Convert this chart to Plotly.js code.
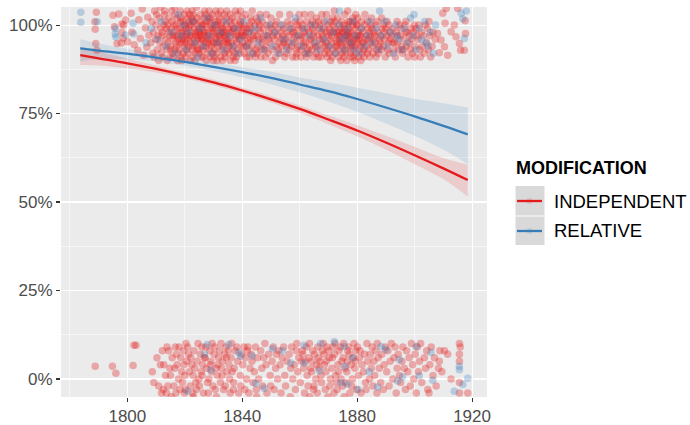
<!DOCTYPE html>
<html>
<head>
<meta charset="utf-8">
<script src="https://cdn.plot.ly/plotly-3.0.1.min.js"></script>
<style>html,body{margin:0;padding:0;background:#fff;}#chart{width:690px;height:425px;}</style>
</head>
<body>
<div id="chart"></div>
<script>
// ---- DATA ----
const xTickVals = [1800, 1840, 1880, 1920];
const xTickText = ["1800", "1840", "1880", "1920"];
const yTickVals = [0, 0.25, 0.5, 0.75, 1];
const yTickText = ["0%", "25%", "50%", "75%", "100%"];
const seriesNames = ["INDEPENDENT", "RELATIVE"];
const legendTitle = "MODIFICATION";

// fitted curves
const fitYears = [1783.6,1790,1800,1810,1820,1830,1840,1850,1860,1870,1880,1890,1900,1910,1918.5];
const indepFit = [0.915,0.906,0.892,0.876,0.858,0.838,0.815,0.790,0.763,0.733,0.702,0.668,0.632,0.595,0.562];
const indepLow = [0.887,0.886,0.878,0.866,0.850,0.830,0.807,0.781,0.752,0.720,0.686,0.648,0.607,0.565,0.515];
const indepHigh = [0.939,0.925,0.905,0.886,0.866,0.846,0.823,0.799,0.773,0.745,0.717,0.687,0.656,0.624,0.605];
const relFit = [0.934,0.928,0.919,0.908,0.896,0.882,0.867,0.851,0.832,0.813,0.791,0.767,0.742,0.715,0.691];
const relLow = [0.898,0.903,0.903,0.897,0.884,0.870,0.852,0.833,0.810,0.784,0.755,0.722,0.687,0.648,0.607];
const relHigh = [0.960,0.948,0.933,0.919,0.907,0.894,0.881,0.868,0.852,0.838,0.823,0.807,0.792,0.779,0.767];

// jittered observations [year, percent]
const topRed = [
[1788.8,98.8],[1789.2,103.6],[1789.0,94.8],[1789.4,92.9],[1788.7,100.9],[1795.0,102.8],[1795.5,99.5],[1796.4,94.8],[1797.0,103.1],[1797.9,94.9],[1798.1,100.3],[1798.1,98.0],[1798.5,96.3],[1798.7,100],[1799.4,101.4],[1800.1,95.3],[1801.3,103.3],[1801.6,98.0],[1802.4,94.4],[1803.6,92.9],[1804.5,96.2],[1805.7,91.5],[1804.0,101.5],[1805.2,104.5],[1806.3,99.2],[1806.8,93.7],[1807.5,97.1],[1807.1,102.2],
[1808.2,95],[1808.6,101],[1808.9,92],[1809.1,98],[1809.5,104],[1809.3,91],[1809.8,96],
[1810.0,100],[1810.4,93],[1810.7,97],[1810.2,103],[1810.9,90],
[1811.3,95],[1811.6,99],[1811.1,102],[1811.8,92],[1811.5,105],
[1812.0,97],[1812.3,91],[1812.7,100],[1812.5,94],[1812.9,103],[1812.1,98],
[1813.4,96],[1813.2,101],[1813.8,93],[1813.6,99],[1813.0,104],[1813.9,90],
[1814.1,95],[1814.5,102],[1814.3,98],[1814.8,91],[1814.6,97],[1814.0,100],[1814.9,94],
[1815.2,99],[1815.7,92],[1815.4,104],[1815.9,96],[1815.1,93],[1815.5,101],[1815.8,97],
[1816.0,91],[1816.3,98],[1816.6,103],[1816.9,95],[1816.2,100],[1816.5,93],[1816.8,97],[1816.4,105],
[1817.1,94],[1817.4,99],[1817.7,92],[1817.3,102],[1817.9,96],[1817.0,100],[1817.6,97],[1817.5,90],
[1818.2,95],[1818.5,101],[1818.8,98],[1818.0,93],[1818.4,104],[1818.7,91],[1818.3,99],[1818.9,96],[1818.6,102],
[1819.1,97],[1819.4,92],[1819.7,100],[1819.2,95],[1819.9,103],[1819.5,98],[1819.0,90],[1819.8,94],[1819.3,101],
[1820.0,96],[1820.3,99],[1820.6,93],[1820.9,102],[1820.2,91],[1820.5,97],[1820.8,104],[1820.1,100],[1820.4,95],[1820.7,98],
[1821.2,94],[1821.5,101],[1821.8,97],[1821.1,92],[1821.4,99],[1821.7,103],[1821.0,96],[1821.9,90],[1821.6,100],
[1822.3,98],[1822.6,93],[1822.9,101],[1822.0,95],[1822.5,104],[1822.2,97],[1822.8,91],[1822.1,100],[1822.7,94],[1822.4,102],
[1823.1,96],[1823.4,99],[1823.7,92],[1823.0,103],[1823.3,95],[1823.9,98],[1823.6,90],[1823.2,101],[1823.8,97],
[1824.0,94],[1824.3,100],[1824.6,97],[1824.9,92],[1824.2,102],[1824.5,96],[1824.8,99],[1824.1,105],[1824.4,93],[1824.7,98],
[1825.2,101],[1825.5,95],[1825.8,91],[1825.1,98],[1825.4,103],[1825.7,96],[1825.0,93],[1825.9,100],[1825.6,97],
[1826.1,99],[1826.4,94],[1826.7,102],[1826.0,96],[1826.3,91],[1826.6,98],[1826.9,104],[1826.2,93],[1826.5,100],[1826.8,97],
[1827.3,95],[1827.6,101],[1827.9,92],[1827.0,98],[1827.2,103],[1827.5,90],[1827.8,96],[1827.1,100],[1827.4,94],
[1828.0,97],[1828.3,102],[1828.6,93],[1828.9,99],[1828.2,95],[1828.5,104],[1828.8,91],[1828.1,98],[1828.4,96],[1828.7,101],
[1829.2,94],[1829.5,99],[1829.8,92],[1829.1,102],[1829.4,97],[1829.7,95],[1829.0,100],[1829.9,90],[1829.6,103],
[1830.0,98],[1830.3,93],[1830.6,101],[1830.9,96],[1830.2,91],[1830.5,99],[1830.8,104],[1830.1,95],[1830.4,97],[1830.7,100],
[1831.1,92],[1831.4,98],[1831.7,103],[1831.0,95],[1831.3,100],[1831.6,94],[1831.9,97],[1831.2,90],[1831.5,101],
[1832.3,96],[1832.6,99],[1832.9,93],[1832.0,102],[1832.2,97],[1832.5,91],[1832.8,100],[1832.1,95],[1832.4,104],[1832.7,98],
[1833.0,94],[1833.3,101],[1833.6,97],[1833.9,92],[1833.2,99],[1833.5,95],[1833.8,103],[1833.1,90],[1833.4,98],
[1834.2,96],[1834.5,100],[1834.8,93],[1834.1,98],[1834.4,102],[1834.7,95],[1834.0,91],[1834.3,97],[1834.6,104],
[1835.1,99],[1835.4,94],[1835.7,101],[1835.0,96],[1835.3,92],[1835.6,98],[1835.9,103],[1835.2,95],[1835.8,90],
[1836.0,97],[1836.3,100],[1836.6,93],[1836.9,99],[1836.2,95],[1836.5,102],[1836.8,91],[1836.4,98],
[1837.1,94],[1837.4,101],[1837.7,96],[1837.0,99],[1837.3,92],[1837.6,104],[1837.9,97],[1837.5,90],
[1838.2,98],[1838.5,93],[1838.8,100],[1838.1,95],[1838.4,103],[1838.7,97],[1838.0,91],[1838.9,99],
[1839.0,96],[1839.3,101],[1839.6,94],[1839.9,98],[1839.2,92],[1839.5,100],[1839.8,97],[1839.4,104],
[1840.1,95],[1840.4,99],[1840.7,92],[1840.0,102],[1840.3,97],[1840.6,94],[1840.9,100],
[1841.2,98],[1841.5,91],[1841.8,96],[1841.1,103],[1841.4,94],[1841.7,99],[1841.0,97],
[1842.3,93],[1842.6,100],[1842.9,96],[1842.2,98],[1842.5,91],[1842.8,102],[1842.1,95],
[1843.0,99],[1843.4,94],[1843.7,97],[1843.2,101],[1843.9,92],[1843.5,104],
[1844.1,96],[1844.4,100],[1844.7,93],[1844.0,98],[1844.6,91],[1844.9,102],
[1845.2,97],[1845.5,94],[1845.8,99],[1845.1,92],[1845.4,101],[1845.7,96],
[1846.3,98],[1846.6,93],[1846.0,100],[1846.9,95],[1846.2,103],[1846.5,91],
[1847.1,96],[1847.4,99],[1847.8,93],[1847.0,101],[1847.6,97],
[1848.2,94],[1848.5,100],[1848.8,97],[1848.1,91],[1848.4,103],
[1849.3,98],[1849.6,95],[1849.0,92],[1849.9,100],[1849.2,96],
[1850.1,99],[1850.4,93],[1850.7,97],[1850.0,102],[1850.5,90],
[1851.2,96],[1851.5,100],[1851.8,94],[1851.1,98],[1851.6,91],
[1852.3,97],[1852.6,93],[1852.0,101],[1852.9,95],[1852.4,99],
[1853.1,92],[1853.4,98],[1853.7,96],[1853.0,103],[1853.8,94],
[1854.2,100],[1854.5,95],[1854.8,91],[1854.1,97],[1854.6,99],
[1855.3,94],[1855.6,98],[1855.0,96],[1855.9,101],[1855.4,92],
[1856.1,97],[1856.4,93],[1856.7,100],[1856.0,95],[1856.5,103],
[1857.2,99],[1857.5,91],[1857.8,96],[1857.1,94],[1857.6,98],
[1858.3,95],[1858.6,101],[1858.9,93],[1858.0,98],[1858.4,97],[1858.7,91],
[1859.1,100],[1859.4,94],[1859.7,97],[1859.0,92],[1859.5,99],[1859.8,103],
[1860.2,96],[1860.5,93],[1860.8,99],[1860.1,101],[1860.4,91],[1860.7,97],
[1861.3,95],[1861.6,98],[1861.9,92],[1861.0,100],[1861.4,94],[1861.7,103],
[1862.1,97],[1862.4,91],[1862.7,99],[1862.0,95],[1862.5,101],[1862.8,93],
[1863.2,98],[1863.5,94],[1863.8,100],[1863.1,92],[1863.6,96],[1863.9,103],
[1864.3,93],[1864.6,99],[1864.0,96],[1864.9,91],[1864.4,101],[1864.7,97],
[1865.1,95],[1865.4,100],[1865.7,92],[1865.0,98],[1865.5,94],[1865.8,102],
[1866.2,97],[1866.5,91],[1866.8,99],[1866.1,94],[1866.6,101],[1866.9,96],
[1867.3,93],[1867.6,98],[1867.0,100],[1867.9,95],[1867.4,91],[1867.7,103],
[1868.1,96],[1868.4,99],[1868.7,92],[1868.0,97],[1868.5,101],[1868.8,94],
[1869.2,98],[1869.5,93],[1869.8,100],[1869.1,95],[1869.6,91],[1869.9,97],[1869.3,103],
[1870.0,94],[1870.3,99],[1870.6,96],[1870.9,101],[1870.2,92],[1870.5,98],[1870.8,90],
[1871.1,97],[1871.4,93],[1871.7,100],[1871.0,95],[1871.5,102],[1871.8,98],[1871.3,91],
[1872.2,99],[1872.5,94],[1872.8,96],[1872.1,101],[1872.4,92],[1872.7,98],[1872.0,104],[1872.9,95],
[1873.3,97],[1873.6,91],[1873.9,100],[1873.0,94],[1873.5,98],[1873.8,93],[1873.2,102],[1873.7,96],
[1874.1,95],[1874.4,99],[1874.7,92],[1874.0,97],[1874.6,101],[1874.9,94],[1874.3,90],[1874.8,98],
[1875.2,96],[1875.5,100],[1875.8,93],[1875.1,98],[1875.4,91],[1875.7,103],[1875.0,95],[1875.9,97],[1875.6,99],
[1876.3,94],[1876.6,98],[1876.9,101],[1876.0,92],[1876.5,96],[1876.8,100],[1876.2,97],[1876.4,90],[1876.7,104],
[1877.1,99],[1877.4,95],[1877.7,92],[1877.0,97],[1877.5,101],[1877.8,94],[1877.3,98],[1877.9,91],[1877.6,96],
[1878.2,93],[1878.5,100],[1878.8,97],[1878.1,95],[1878.4,102],[1878.7,91],[1878.0,98],[1878.9,96],[1878.6,94],
[1879.3,99],[1879.6,92],[1879.9,97],[1879.0,101],[1879.4,94],[1879.7,96],[1879.1,90],[1879.8,100],[1879.5,103],
[1880.1,95],[1880.4,98],[1880.7,93],[1880.0,100],[1880.5,91],[1880.8,97],[1880.2,102],[1880.6,96],
[1881.2,94],[1881.5,99],[1881.8,92],[1881.1,97],[1881.6,101],[1881.9,95],[1881.3,90],
[1882.0,98],[1882.3,93],[1882.6,100],[1882.9,96],[1882.4,91],[1882.7,103],[1882.1,95],
[1883.2,97],[1883.5,92],[1883.8,99],[1883.1,94],[1883.6,101],[1883.9,96],
[1884.0,93],[1884.3,98],[1884.6,95],[1884.9,100],[1884.4,91],[1884.7,97],
[1885.1,99],[1885.4,94],[1885.7,96],[1885.0,102],[1885.5,92],[1885.8,98],
[1886.2,95],[1886.5,100],[1886.8,93],[1886.1,97],[1886.6,91],
[1887.3,98],[1887.6,94],[1887.0,101],[1887.9,96],[1887.4,92],
[1888.1,97],[1888.4,93],[1888.7,99],[1888.0,95],[1888.5,102],
[1889.2,94],[1889.5,98],[1889.8,91],[1889.1,100],[1889.6,96],
[1890.3,97],[1890.6,93],[1890.0,99],[1890.9,95],[1890.4,101],
[1891.1,92],[1891.4,98],[1891.7,96],[1891.0,100],
[1892.2,95],[1892.5,99],[1892.8,93],[1892.1,97],
[1893.3,91],[1893.6,98],[1893.0,95],[1893.9,101],
[1894.1,97],[1894.4,93],[1894.7,100],[1894.0,95],
[1895.2,99],[1895.5,94],[1895.8,92],[1895.1,97],
[1896.3,96],[1896.6,100],[1896.0,93],[1896.9,98],
[1897.1,94],[1897.4,98],[1897.7,91],[1897.0,101],
[1898.2,97],[1898.5,93],[1898.8,99],[1898.1,95],
[1899.3,92],[1899.6,98],[1899.0,96],[1899.9,100],
[1900.1,94],[1900.4,99],[1900.7,97],[1900.0,91],
[1901.2,96],[1901.5,100],[1901.8,93],
[1902.3,98],[1902.6,94],[1902.0,91],
[1903.1,97],[1903.4,92],[1903.7,100],
[1904.2,95],[1904.5,99],[1904.8,93],
[1905.3,97],[1905.6,91],[1905.0,101],
[1906.1,94],[1906.4,98],[1907.2,96],
[1908.0,97.6],[1908.6,92.2],[1909.2,95.8],[1909.8,103.3],[1910.4,93.9],[1910.6,100.5],[1911.0,104.7],[1911.5,91.5],[1912.7,98.1],[1913.8,100],[1914.4,96.7],[1915.0,104.7],[1915.6,94.8],[1916.0,92.9],[1917.3,92.9],[1917.7,97.6],[1917.6,101.2]
];

const topBlue = [
[1783.8,103.6],[1783.8,100.8],[1789.5,100.9],[1795.8,99],[1795.8,97.5],[1796,96.6],[1799.3,97.2],[1802,100.5],[1802.2,97.5],[1806.5,95],[1808.3,99],[1810.5,96],[1811.9,101],[1813.5,94],[1815.3,98],[1816.7,92],[1817.8,103],[1818.6,97],[1819.6,100],[1820.4,93],[1821.3,98],[1822.6,101],[1823.5,95],[1824.4,91],[1825.3,99],[1826.5,94],[1827.7,102],[1828.4,97],[1829.3,92],[1830.2,100],[1831.5,95],[1832.4,98],[1833.6,93],[1834.5,101],[1835.5,97],[1836.7,94],[1837.6,99],[1838.5,92],[1839.4,96],[1840.5,101],[1841.6,94],[1842.4,98],[1843.3,92],[1844.5,99],[1845.6,95],[1846.4,102],[1847.5,93],[1848.6,97],[1849.5,100],[1850.6,94],[1851.4,98],[1852.5,92],[1853.6,100],[1854.4,96],[1855.5,93],[1856.6,99],[1857.4,95],[1858.5,102],[1859.3,97],[1860.6,94],[1861.5,99],[1862.6,92],[1863.4,97],[1864.5,100],[1865.6,95],[1866.4,93],[1867.5,99],[1868.6,96],[1869.4,101],[1870.5,94],[1871.6,98],[1872.4,92],[1873.5,100],[1873.8,104],[1874.6,96],[1875.4,93],[1876.1,97],[1876.5,99],[1877.6,95],[1878.4,101],[1878.9,93],[1879.5,97],[1880.6,92],[1881.4,99],[1882.5,94],[1883.6,97],[1884.5,101],[1885.3,95],[1886.6,99],[1887.4,93],[1887.8,104],[1888.5,97],[1889.6,101],[1890.4,94],[1891.5,98],[1892.6,92],[1893.4,100],[1893.7,97],[1894.5,96],[1895.6,93],[1896.4,99],[1897.5,95],[1898.6,102],[1899.4,97],[1899.8,103],[1900.5,93],[1901.6,99],[1902.4,96],[1903.5,101],[1903.9,95],[1904.6,94],[1905.4,98],[1906.5,92],[1907.3,100],[1916.2,103.3],[1917.3,96.2],[1916.8,101.8],[1918.0,104]
];

const bottomRed = [
[1788.8,3.6],[1794.8,3.6],[1796.0,1.6],[1802.0,3.8],[1802.3,9.5],[1803.0,9.5],
[1808.7,2],[1809.2,-1],[1810.9,-2],[1810.3,6],[1811.5,4],[1811.9,-4],[1812.7,4],[1812.2,8],[1812.5,-3],
[1813.8,9],[1813.3,1],[1813.6,-4],[1814.4,8],[1814.8,3],[1814.1,-2],[1815.0,1],[1815.6,6],[1815.3,-5],
[1816.2,-2],[1816.7,9],[1816.5,3],[1816.9,-4],[1817.3,4],[1817.8,0],[1817.1,7],
[1818.0,9],[1818.6,6],[1818.3,-3],[1818.9,2],[1819.7,4],[1819.2,-1],[1819.5,8],[1819.9,-4],
[1820.0,1],[1820.4,10],[1820.7,5],[1820.2,-3],[1821.3,7],[1821.6,2],[1821.9,-2],[1821.0,9],
[1822.4,4],[1822.7,-4],[1822.1,6],[1822.9,1],[1823.2,8],[1823.5,3],[1823.8,-1],[1823.0,-5],
[1824.3,5],[1824.6,10],[1824.9,0],[1824.1,-3],[1825.4,7],[1825.7,2],[1825.1,-2],[1825.9,9],
[1826.2,4],[1826.5,-4],[1826.8,6],[1826.0,1],[1827.3,9],[1827.6,3],[1827.9,-1],[1827.1,6],
[1828.4,0],[1828.7,8],[1828.2,-4],[1828.9,4],[1829.1,5],[1829.5,10],[1829.8,-2],[1829.3,2],
[1830.2,7],[1830.6,-3],[1830.9,3],[1830.4,9],[1831.3,1],[1831.7,6],[1831.0,-5],[1831.5,4],
[1832.1,8],[1832.4,-1],[1832.8,3],[1832.6,10],[1833.2,5],[1833.5,-3],[1833.9,7],[1833.0,1],
[1834.3,9],[1834.7,2],[1834.1,-2],[1834.5,6],[1835.4,4],[1835.8,-4],[1835.2,8],[1835.6,0],
[1836.1,6],[1836.5,2],[1836.9,-3],[1836.3,10],[1837.2,3],[1837.6,8],[1837.0,-1],
[1838.4,5],[1838.8,-4],[1838.1,9],[1839.3,1],[1839.7,7],[1839.5,-2],
[1840.2,4],[1840.6,9],[1840.9,-3],[1841.1,6],[1841.5,0],[1841.8,8],
[1842.3,-4],[1842.7,3],[1842.0,9],[1843.4,5],[1843.8,-1],[1843.1,7],
[1844.2,2],[1844.6,9],[1844.9,-3],[1845.3,6],[1845.7,0],[1845.0,-5],
[1846.4,8],[1846.8,3],[1847.1,-2],[1847.5,6],[1847.9,10],[1848.3,4],[1848.6,-4],
[1849.2,7],[1849.7,1],[1849.9,-2],[1850.4,5],[1850.8,9],[1851.1,-3],[1851.6,3],[1851.9,7],
[1852.3,0],[1852.7,8],[1853.2,4],[1853.5,-4],[1853.9,6],[1854.4,9],[1854.8,1],
[1855.1,-2],[1855.6,5],[1856.3,7],[1856.7,-5],[1856.9,3],[1857.2,9],[1857.6,0],
[1858.1,4],[1858.5,-3],[1858.8,8],[1859.3,2],[1859.7,6],[1859.0,10],
[1860.2,-1],[1860.6,5],[1860.9,8],[1861.4,3],[1861.7,-4],[1861.1,7],
[1862.3,9],[1862.6,1],[1862.9,-2],[1862.0,5],[1863.2,6],[1863.5,-5],[1863.8,3],[1863.4,10],
[1864.1,2],[1864.5,8],[1864.8,-3],[1864.3,5],[1865.2,7],[1865.6,0],[1865.9,4],[1865.0,-2],
[1866.3,9],[1866.7,3],[1866.1,-4],[1866.5,6],[1867.4,1],[1867.8,8],[1867.0,5],[1867.6,-1],
[1868.2,10],[1868.6,4],[1868.9,-3],[1868.4,7],[1869.1,2],[1869.5,9],[1869.8,-5],[1869.3,5],
[1870.3,6],[1870.7,0],[1870.0,8],[1870.5,-2],[1871.2,3],[1871.6,9],[1871.9,-4],[1871.4,6],
[1872.1,7],[1872.5,1],[1872.8,-1],[1872.3,10],[1873.3,4],[1873.7,8],[1873.0,-3],[1873.5,2],
[1874.2,9],[1874.6,5],[1874.9,-2],[1874.4,0],[1875.1,6],[1875.5,-5],[1875.8,3],[1875.3,10],
[1876.4,2],[1876.7,8],[1876.0,-1],[1876.6,5],[1877.2,7],[1877.5,-4],[1877.9,4],[1877.1,9],
[1878.3,0],[1878.6,6],[1878.9,10],[1878.1,-2],[1879.2,3],[1879.5,8],[1879.8,-3],[1879.4,5],
[1880.1,9],[1880.5,1],[1880.8,6],[1881.3,-4],[1881.7,4],[1881.0,8],
[1882.2,2],[1882.6,7],[1882.9,-1],[1883.4,10],[1883.7,5],[1883.1,-3],
[1884.3,0],[1884.6,7],[1884.9,3],[1885.2,9],[1885.5,-2],[1885.8,5],
[1886.1,1],[1886.5,8],[1886.9,-4],[1887.3,6],[1887.7,3],[1887.0,10],
[1888.2,-1],[1888.6,7],[1889.4,4],[1889.8,9],[1889.1,-3],[1890.3,2],[1890.7,8],
[1891.1,-2],[1891.5,5],[1891.9,10],[1892.4,0],[1892.8,6],[1893.2,9],[1893.6,-4],[1893.9,3],
[1894.3,7],[1894.7,1],[1895.1,-1],[1895.6,5],[1895.9,9],[1896.4,3],[1896.8,-3],
[1897.2,8],[1897.6,2],[1898.1,6],[1898.5,-2],[1898.9,10],[1899.3,4],[1899.7,0],
[1900.2,7],[1900.6,-4],[1900.9,9],[1901.3,2],[1901.7,5],[1902.1,10],[1902.5,-1],
[1903.4,6],[1903.8,3],[1904.2,8],[1904.6,-3],[1905.3,4],[1905.8,9],[1905.0,-4],
[1906.4,1],[1906.9,6],[1907.5,-2],[1908.3,3],[1908.8,8],[1908.6,5],[1909.5,2],
[1910.4,8],[1911.5,7],[1912.7,0],[1915.6,10],[1915.9,9],[1915.6,7],[1915.6,5],[1915.6,-1],[1915.6,-4],[1918.5,-4]
];

const bottomBlue = [
[1820.8,-3.5],[1826.8,7],[1827.8,9.7],[1829,2.5],[1835.3,9.7],[1838.8,7.5],[1839.4,6.4],[1843.5,6.5],[1844.7,-1.3],[1847.6,-2.6],[1850.5,8.5],[1854,8],[1856.9,4.5],[1861.5,9.5],[1861.5,4.5],[1866.8,2.3],[1867.3,10],[1872,10.5],[1874.3,-1],[1875.5,9.2],[1875.7,3.6],[1876.6,-1.5],[1878.5,6],[1880.3,-3],[1884.2,2],[1887.1,-2.3],[1888.3,9.2],[1890,8.3],[1894.1,-0.6],[1894.7,5.4],[1895.8,0.6],[1900.5,9.2],[1901.6,0.9],[1905.7,7.5],[1906.3,-0.4],[1913.8,-3.5],[1915.6,3.6],[1915.6,2.6],[1916.8,-1.6],[1918.5,0.2]
];

// ---- STYLE ----
const RED = "#E41A1C", BLUE = "#377EB8";
const RED_PT = "rgba(228,26,28,0.33)", BLUE_PT = "rgba(55,126,184,0.3)";
const RED_RIB = "rgba(228,26,28,0.15)", BLUE_RIB = "rgba(55,126,184,0.15)";
const FONT = "Liberation Sans, Arial, Helvetica, sans-serif";

function pts(arr, color) {
  return {
    type: "scatter", mode: "markers",
    x: arr.map(p => p[0]), y: arr.map(p => p[1] / 100),
    marker: {size: 7.5, color: color, line: {width: 0}},
    showlegend: false, hoverinfo: "skip"
  };
}
function ribbon(low, high, fill) {
  return [
    {type: "scatter", mode: "lines", x: fitYears, y: low, line: {width: 0, color: fill, shape: "spline"}, showlegend: false, hoverinfo: "skip"},
    {type: "scatter", mode: "lines", x: fitYears, y: high, line: {width: 0, color: fill, shape: "spline"}, fill: "tonexty", fillcolor: fill, showlegend: false, hoverinfo: "skip"}
  ];
}
function fitLine(y, color) {
  return {type: "scatter", mode: "lines", x: fitYears, y: y, line: {width: 2.3, color: color, shape: "spline"}, showlegend: false, hoverinfo: "skip"};
}

const data = [
  pts(topRed, RED_PT), pts(bottomRed, RED_PT),
  pts(topBlue, BLUE_PT), pts(bottomBlue, BLUE_PT),
  ...ribbon(indepLow, indepHigh, RED_RIB),
  ...ribbon(relLow, relHigh, BLUE_RIB),
  fitLine(indepFit, RED), fitLine(relFit, BLUE)
];

// legend geometry (paper coords; plot area = px 61..487 x, 7..397 y)
const px = v => (v - 61) / 426;
const py = v => (397 - v) / 390;

const shapes = [
  {type: "rect", xref: "paper", yref: "paper", x0: px(515.5), x1: px(544.5), y0: py(215.5), y1: py(186), fillcolor: "#D9D9D9", line: {width: 0}},
  {type: "rect", xref: "paper", yref: "paper", x0: px(515.5), x1: px(544.5), y0: py(245), y1: py(216.5), fillcolor: "#D9D9D9", line: {width: 0}},
  {type: "line", xref: "paper", yref: "paper", x0: px(517), x1: px(542), y0: py(201), y1: py(201), line: {color: RED, width: 2.3}},
  {type: "line", xref: "paper", yref: "paper", x0: px(517), x1: px(542), y0: py(231), y1: py(231), line: {color: BLUE, width: 2.3}},
  {type: "circle", xref: "paper", yref: "paper", x0: px(526.5), x1: px(532.5), y0: py(204), y1: py(198), fillcolor: "rgba(228,26,28,0.15)", line: {width: 0}},
  {type: "circle", xref: "paper", yref: "paper", x0: px(526.5), x1: px(532.5), y0: py(234), y1: py(228), fillcolor: "rgba(55,126,184,0.15)", line: {width: 0}}
];

const annotations = [
  {xref: "paper", yref: "paper", x: px(513.5), y: py(168), xanchor: "left", yanchor: "middle", showarrow: false,
   text: "<b>" + legendTitle + "</b>", font: {family: FONT, size: 18, color: "#000"}},
  {xref: "paper", yref: "paper", x: px(552), y: py(201), xanchor: "left", yanchor: "middle", showarrow: false,
   text: seriesNames[0], font: {family: FONT, size: 18.5, color: "#000"}},
  {xref: "paper", yref: "paper", x: px(552), y: py(231), xanchor: "left", yanchor: "middle", showarrow: false,
   text: seriesNames[1], font: {family: FONT, size: 18.5, color: "#000"}}
];

const axisCommon = {
  showgrid: true, gridcolor: "#FFFFFF", gridwidth: 1.1,
  zeroline: false, showline: false,
  ticks: "outside", ticklen: 4, tickwidth: 1.1, tickcolor: "#333333",
  tickfont: {family: FONT, size: 17, color: "#4D4D4D"},
  fixedrange: true
};

const layout = {
  width: 690, height: 425,
  margin: {l: 61, r: 203, t: 7, b: 28, pad: 0},
  paper_bgcolor: "#FFFFFF", plot_bgcolor: "#EBEBEB",
  showlegend: false,
  xaxis: Object.assign({}, axisCommon, {
    range: [1776.9, 1925.2], tickmode: "array", tickvals: xTickVals, ticktext: xTickText,
    ticklen: 3.5,
    minor: {tickvals: [1780, 1820, 1860, 1900], showgrid: true, gridcolor: "#FFFFFF", gridwidth: 0.55, ticks: ""}
  }),
  yaxis: Object.assign({}, axisCommon, {
    range: [-0.051, 1.051], tickmode: "array", tickvals: yTickVals, ticktext: yTickText,
    minor: {tickvals: [0.125, 0.375, 0.625, 0.875], showgrid: true, gridcolor: "#FFFFFF", gridwidth: 0.55, ticks: ""}
  }),
  shapes: shapes,
  annotations: annotations
};

Plotly.newPlot("chart", data, layout, {staticPlot: true, displayModeBar: false});
</script>
</body>
</html>
